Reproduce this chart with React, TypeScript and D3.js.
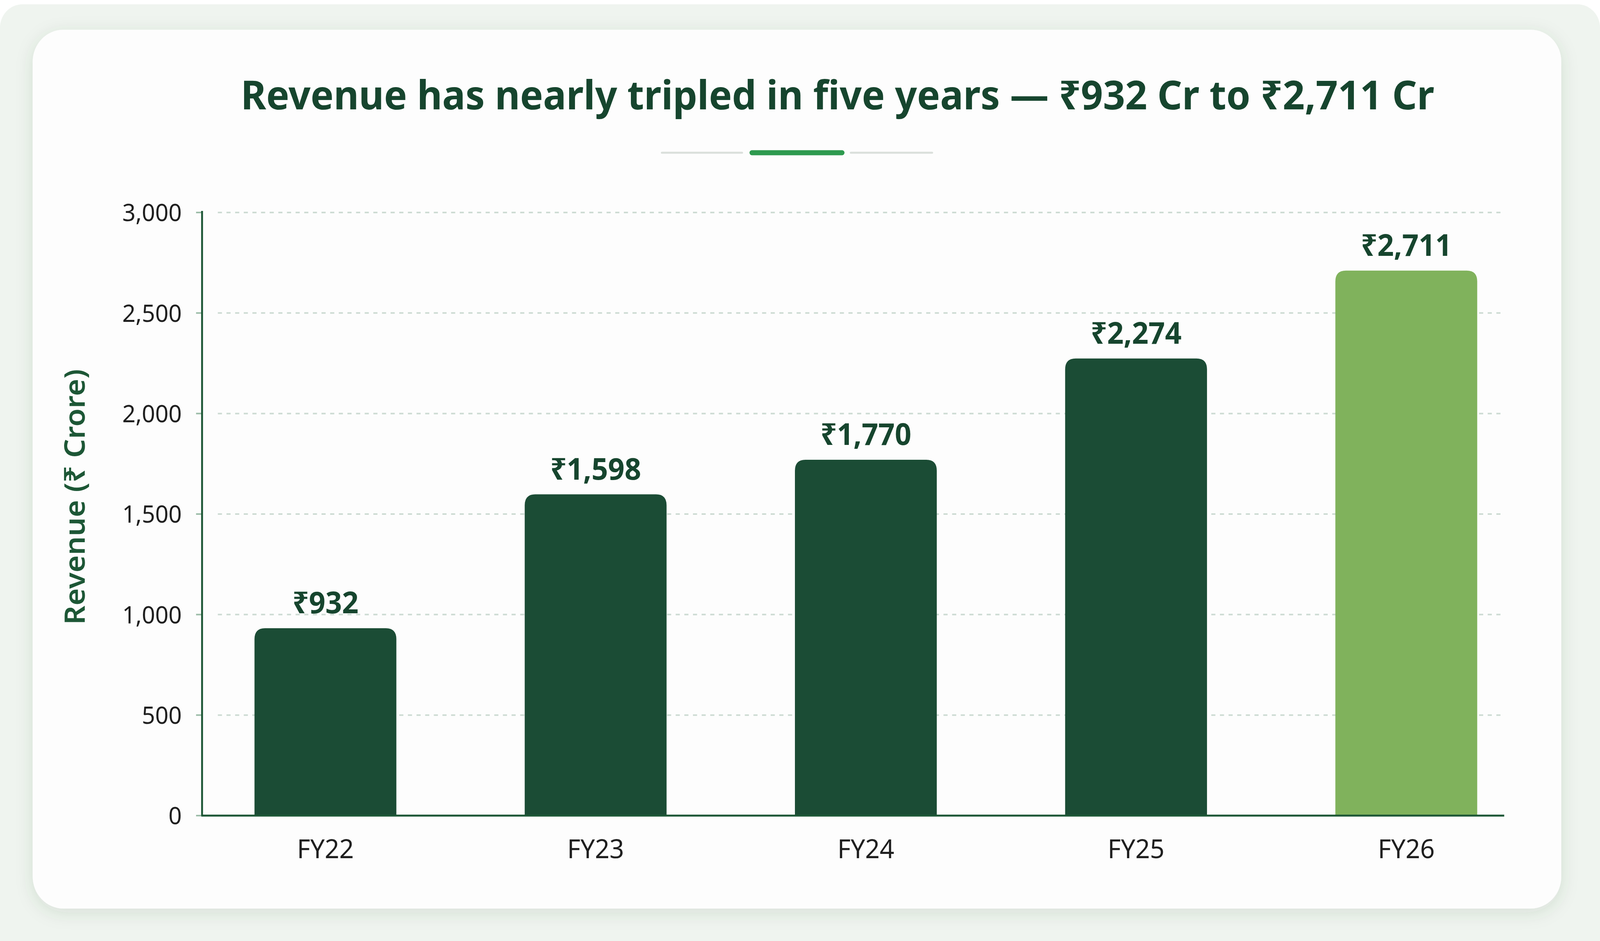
import React, { useRef, useEffect } from 'react';
import * as d3 from 'd3';

// chart data
const years = ['FY22', 'FY23', 'FY24', 'FY25', 'FY26'];
const revenue = [932, 1598, 1770, 2274, 2711];
const yTicks = [0, 500, 1000, 1500, 2000, 2500, 3000];
const highlightYear = 'FY26';
const titleText = 'Revenue has nearly tripled in five years — ₹932 Cr to ₹2,711 Cr';
const yAxisTitle = 'Revenue (₹ Crore)';

const W = 4260;
const H = 2409;
const FONT = '"Noto Sans", "DejaVu Sans", sans-serif';

const DARK = '#1b4c35';
const LIGHT = '#80b25c';
const TEXT_GREEN = '#16452e';
const AXIS = '#1d5736';

// rounded top corners, flat bottom
const barPath = (x: number, y: number, w: number, h: number, r: number) => {
  const rr = Math.min(r, h, w / 2);
  return `M${x},${y + h}V${y + rr}Q${x},${y} ${x + rr},${y}H${x + w - rr}Q${x + w},${y} ${x + w},${y + rr}V${y + h}Z`;
};

const App: React.FC = () => {
  const svgRef = useRef<SVGSVGElement>(null);

  useEffect(() => {
    if (!svgRef.current) return;
    const svg = d3.select(svgRef.current);
    svg.selectAll('*').remove();

    const plot = { left: 538, right: 4005, top: 544, bottom: 2088 };

    const x = d3.scaleBand<string>()
      .domain(years)
      .range([plot.left, plot.right])
      .paddingInner(0.475)
      .paddingOuter(0.147)
      .align(0.66);

    const y = d3.scaleLinear()
      .domain([0, 3000])
      .range([plot.bottom, plot.top]);

    const defs = svg.append('defs');
    const shadow = defs.append('filter')
      .attr('id', 'cardShadow')
      .attr('x', '-5%').attr('y', '-5%')
      .attr('width', '110%').attr('height', '115%');
    shadow.append('feDropShadow')
      .attr('dx', 0).attr('dy', 10)
      .attr('stdDeviation', 22)
      .attr('flood-color', '#2d5a3a')
      .attr('flood-opacity', 0.13);

    // page + card
    svg.append('rect').attr('width', W).attr('height', H).attr('fill', '#ffffff');
    svg.append('rect')
      .attr('x', 0).attr('y', 11)
      .attr('width', W).attr('height', H + 60)
      .attr('rx', 60)
      .attr('fill', '#eff4ef');
    svg.append('rect')
      .attr('x', 87).attr('y', 76)
      .attr('width', 4157 - 87).attr('height', 2326 - 76)
      .attr('rx', 82)
      .attr('fill', '#fdfdfd')
      .attr('filter', 'url(#cardShadow)');

    // title
    svg.append('text')
      .attr('x', 2230).attr('y', 280)
      .attr('text-anchor', 'middle')
      .attr('font-family', FONT)
      .attr('font-weight', 700)
      .attr('font-size', 103)
      .attr('fill', TEXT_GREEN)
      .text(titleText);

    // divider under title
    const divider = svg.append('g');
    divider.append('line')
      .attr('x1', 1762).attr('x2', 1976).attr('y1', 391).attr('y2', 391)
      .attr('stroke', '#dadfdb').attr('stroke-width', 5).attr('stroke-linecap', 'round');
    divider.append('line')
      .attr('x1', 2265).attr('x2', 2482).attr('y1', 391).attr('y2', 391)
      .attr('stroke', '#dadfdb').attr('stroke-width', 5).attr('stroke-linecap', 'round');
    divider.append('line')
      .attr('x1', 2002).attr('x2', 2242).attr('y1', 391).attr('y2', 391)
      .attr('stroke', '#2e9a4f').attr('stroke-width', 13).attr('stroke-linecap', 'round');

    // gridlines
    svg.append('g')
      .selectAll('line.grid')
      .data(yTicks.filter(d => d > 0))
      .enter()
      .append('line')
      .attr('class', 'grid')
      .attr('x1', plot.left + 42)
      .attr('x2', plot.right - 7)
      .attr('y1', d => y(d))
      .attr('y2', d => y(d))
      .attr('stroke', '#cddbd3')
      .attr('stroke-width', 4)
      .attr('stroke-dasharray', '11 12');

    // y ticks + labels
    const yAxis = svg.append('g');
    yAxis.selectAll('line.tick')
      .data(yTicks)
      .enter()
      .append('line')
      .attr('x1', plot.left - 16)
      .attr('x2', plot.left)
      .attr('y1', d => y(d))
      .attr('y2', d => y(d))
      .attr('stroke', '#9dbda9')
      .attr('stroke-width', 4);
    yAxis.selectAll('text')
      .data(yTicks)
      .enter()
      .append('text')
      .attr('x', 484)
      .attr('y', d => y(d))
      .attr('dy', '0.36em')
      .attr('text-anchor', 'end')
      .attr('font-family', FONT)
      .attr('font-size', 62)
      .attr('fill', '#1f1f1f')
      .text(d => d3.format(',')(d));

    svg.append('text')
      .attr('transform', `translate(226, 1272) rotate(-90)`)
      .attr('text-anchor', 'middle')
      .attr('font-family', FONT)
      .attr('font-weight', 600)
      .attr('font-size', 76)
      .attr('fill', AXIS)
      .text(yAxisTitle);

    // bars
    const bars = svg.append('g');
    bars.selectAll('path')
      .data(years)
      .enter()
      .append('path')
      .attr('d', (d, i) => {
        const top = y(revenue[i]);
        return barPath(x(d)!, top, x.bandwidth(), plot.bottom - top, 28);
      })
      .attr('fill', d => (d === highlightYear ? LIGHT : DARK));

    bars.selectAll('text')
      .data(years)
      .enter()
      .append('text')
      .attr('x', d => x(d)! + x.bandwidth() / 2)
      .attr('y', (d, i) => y(revenue[i]) - 38)
      .attr('text-anchor', 'middle')
      .attr('font-family', FONT)
      .attr('font-weight', 700)
      .attr('font-size', 77)
      .attr('fill', TEXT_GREEN)
      .text((d, i) => `₹${d3.format(',')(revenue[i])}`);

    // axis lines
    svg.append('line')
      .attr('x1', plot.left).attr('x2', plot.left)
      .attr('y1', plot.top - 4).attr('y2', plot.bottom)
      .attr('stroke', AXIS).attr('stroke-width', 5);
    svg.append('line')
      .attr('x1', plot.left - 2).attr('x2', plot.right)
      .attr('y1', plot.bottom).attr('y2', plot.bottom)
      .attr('stroke', AXIS).attr('stroke-width', 5);

    // x labels
    svg.append('g')
      .selectAll('text')
      .data(years)
      .enter()
      .append('text')
      .attr('x', d => x(d)! + x.bandwidth() / 2)
      .attr('y', 2197)
      .attr('text-anchor', 'middle')
      .attr('font-family', FONT)
      .attr('font-size', 68)
      .attr('fill', '#1f1f1f')
      .text(d => d);
  }, []);

  // fill whatever viewport the page gets
  return (
    <svg
      ref={svgRef}
      viewBox={`0 0 ${W} ${H}`}
      preserveAspectRatio="none"
      style={{ position: 'fixed', left: 0, top: 0, width: '100vw', height: '100vh', display: 'block' }}
    />
  );
};

export default App;
